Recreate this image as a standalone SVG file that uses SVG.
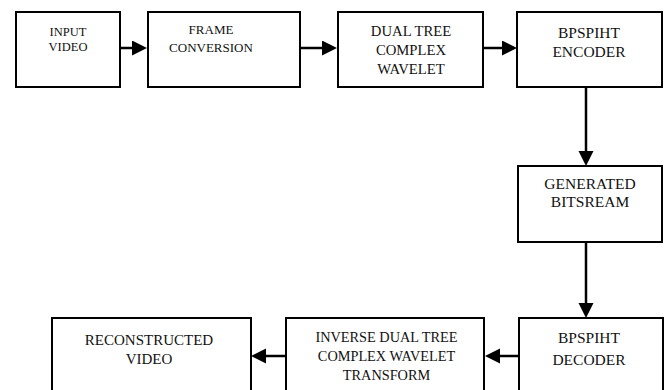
<svg xmlns="http://www.w3.org/2000/svg" width="668" height="390" viewBox="0 0 668 390">
<style>
.box{fill:#fff;stroke:#000;stroke-width:2}
.t{font-family:"Liberation Serif","Times New Roman",serif;fill:#111;text-anchor:middle}
.c{stroke:#000;stroke-width:2.5;fill:none;marker-end:url(#ah)}
</style>
<defs>
<marker id="ah" markerUnits="userSpaceOnUse" markerWidth="16" markerHeight="16" refX="0" refY="7.5" orient="auto">
<path d="M0,0 L15,7.5 L0,15 Z" fill="#000"/>
</marker>
</defs>
<rect width="668" height="390" fill="#fff"/>
<g id="connectors">
<line class="c" x1="120" y1="48" x2="132" y2="48"/>
<line class="c" x1="300" y1="48" x2="322" y2="48"/>
<line class="c" x1="483" y1="48" x2="502" y2="48"/>
<line class="c" x1="586" y1="87" x2="586" y2="151"/>
<line class="c" x1="586" y1="242" x2="586" y2="303"/>
<line class="c" x1="519" y1="356" x2="500" y2="356"/>
<line class="c" x1="286" y1="356" x2="266" y2="356"/>
</g>
<g id="input-video">
<rect class="box" x="16" y="12" width="104" height="75"/>
<text class="t" font-size="12.5"><tspan x="68" y="35.7">INPUT</tspan><tspan x="68" y="50.7">VIDEO</tspan></text>
</g>
<g id="frame-conversion">
<rect class="box" x="148" y="12" width="152" height="75"/>
<text class="t" font-size="13"><tspan x="211" y="34.3">FRAME</tspan><tspan x="211" y="51.7">CONVERSION</tspan></text>
</g>
<g id="dual-tree">
<rect class="box" x="338" y="12" width="145" height="75"/>
<text class="t" font-size="14.7"><tspan x="411" y="35.7">DUAL TREE</tspan><tspan x="411" y="55">COMPLEX</tspan><tspan x="411" y="74.3">WAVELET</tspan></text>
</g>
<g id="bpspiht-encoder">
<rect class="box" x="517" y="12" width="145" height="75"/>
<text class="t" font-size="15.5"><tspan x="589" y="38.3">BPSPIHT</tspan><tspan x="589" y="56.7">ENCODER</tspan></text>
</g>
<g id="generated-bitstream">
<rect class="box" x="518" y="166" width="144" height="76"/>
<text class="t" font-size="15.5"><tspan x="590" y="189.3">GENERATED</tspan><tspan x="590" y="206.7">BITSREAM</tspan></text>
</g>
<g id="bpspiht-decoder">
<rect class="box" x="519" y="318" width="144" height="82"/>
<text class="t" font-size="15.5"><tspan x="589" y="342.7">BPSPIHT</tspan><tspan x="589" y="365">DECODER</tspan></text>
</g>
<g id="inverse-dtcwt">
<rect class="box" x="286" y="318" width="198" height="82"/>
<text class="t" font-size="14.3"><tspan x="386.5" y="341.7">INVERSE DUAL TREE</tspan><tspan x="386.5" y="360.7">COMPLEX WAVELET</tspan><tspan x="386.5" y="380">TRANSFORM</tspan></text>
</g>
<g id="reconstructed-video">
<rect class="box" x="52" y="318" width="199" height="82"/>
<text class="t" font-size="15"><tspan x="149" y="345">RECONSTRUCTED</tspan><tspan x="149" y="364">VIDEO</tspan></text>
</g>
</svg>
